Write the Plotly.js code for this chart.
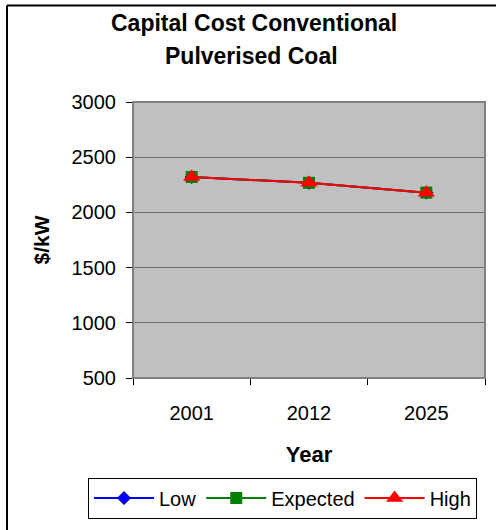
<!DOCTYPE html>
<html>
<head>
<meta charset="utf-8">
<script src="https://cdn.plot.ly/plotly-3.0.1.min.js"></script>
<style>
  html, body { margin: 0; padding: 0; background: #fff; }
  #chart { width: 496px; height: 530px; }
</style>
</head>
<body>
<div id="chart"></div>
<script>
// Capital cost of conventional pulverised coal plant, $/kW
const years = ['2001', '2012', '2025'];
const lowCost = [2321, 2268, 2179];
const expectedCost = [2321, 2268, 2179];
const highCost = [2321, 2268, 2179];
const seriesNames = ['Low', 'Expected', 'High'];

const W = 496, H = 530;
const M = { l: 133, r: 11, t: 102, b: 148 };
const pw = W - M.l - M.r, ph = H - M.t - M.b;
// pixel -> paper coordinates
const px = x => (x - M.l) / pw;
const py = y => (H - M.b - y) / ph;

const font = 'Liberation Sans, Arial, sans-serif';

const traces = [
  {
    x: years, y: lowCost, name: seriesNames[0], type: 'scatter', mode: 'lines+markers',
    line: { color: '#0000ff', width: 2 },
    marker: { symbol: 'diamond', size: 10, color: '#0000ff', line: { color: '#000080', width: 1 } }
  },
  {
    x: years, y: expectedCost, name: seriesNames[1], type: 'scatter', mode: 'lines+markers',
    line: { color: '#008000', width: 2 },
    marker: { symbol: 'square', size: 12, color: '#008000', line: { width: 0 } }
  },
  {
    x: years, y: highCost, name: seriesNames[2], type: 'scatter', mode: 'lines+markers',
    line: { color: '#ff0000', width: 2 },
    marker: { symbol: 'triangle-up', size: 15, color: '#ff0000', line: { width: 0 } }
  }
];

const layout = {
  width: W, height: H,
  margin: M,
  paper_bgcolor: '#ffffff',
  plot_bgcolor: '#c0c0c0',
  font: { family: font, size: 20, color: '#000' },
  showlegend: true,
  legend: {
    orientation: 'h',
    x: px(88), y: py(483), xanchor: 'left', yanchor: 'top',
    bordercolor: '#000', borderwidth: 1, bgcolor: '#fff',
    font: { family: font, size: 20, color: '#000' },
    itemwidth: 60, tracegroupgap: 0
  },
  xaxis: {
    type: 'category',
    range: [-0.5, 2.5],
    tickson: 'boundaries',
    ticks: 'outside', ticklen: 6, tickcolor: '#000', tickwidth: 1,
    showline: true, linecolor: '#000', linewidth: 1, mirror: false,
    showgrid: false, zeroline: false,
    tickfont: { family: font, size: 20, color: '#000' },
    ticklabelstandoff: 17,
    title: { text: '<b>Year</b>', font: { family: font, size: 22, color: '#000' }, standoff: 23 },
    fixedrange: true
  },
  yaxis: {
    range: [500, 3000], dtick: 500, tick0: 500,
    ticks: 'outside', ticklen: 6, tickcolor: '#000', tickwidth: 1,
    showline: true, linecolor: '#000', linewidth: 1,
    showgrid: true, gridcolor: '#6e6e6e', gridwidth: 1,
    zeroline: false,
    tickfont: { family: font, size: 20, color: '#000' },
    ticklabelstandoff: 6,
    title: { text: '<b>$/kW</b>', font: { family: font, size: 21, color: '#000' }, standoff: 16 },
    fixedrange: true
  },
  annotations: [
    { text: '<b>Capital Cost Conventional</b>', xref: 'paper', yref: 'paper',
      x: px(254), y: py(22), xanchor: 'center', yanchor: 'middle', showarrow: false,
      font: { family: font, size: 23, color: '#000' } },
    { text: '<b>Pulverised Coal</b>', xref: 'paper', yref: 'paper',
      x: px(251), y: py(55), xanchor: 'center', yanchor: 'middle', showarrow: false,
      font: { family: font, size: 23, color: '#000' } }
  ],
  shapes: [
    // plot area frame
    { type: 'rect', xref: 'paper', yref: 'paper', x0: 0, x1: 1, y0: 0, y1: 1,
      line: { color: '#808080', width: 2 }, layer: 'above' },
    // chart area border (top and left edges)
    { type: 'line', xref: 'paper', yref: 'paper', x0: px(7), x1: px(500), y0: py(4), y1: py(4),
      line: { color: '#000', width: 2 } },
    { type: 'line', xref: 'paper', yref: 'paper', x0: px(7), x1: px(7), y0: py(4), y1: py(540),
      line: { color: '#000', width: 2 } }
  ]
};

Plotly.newPlot('chart', traces, layout, { displayModeBar: false, staticPlot: true });
</script>
</body>
</html>
